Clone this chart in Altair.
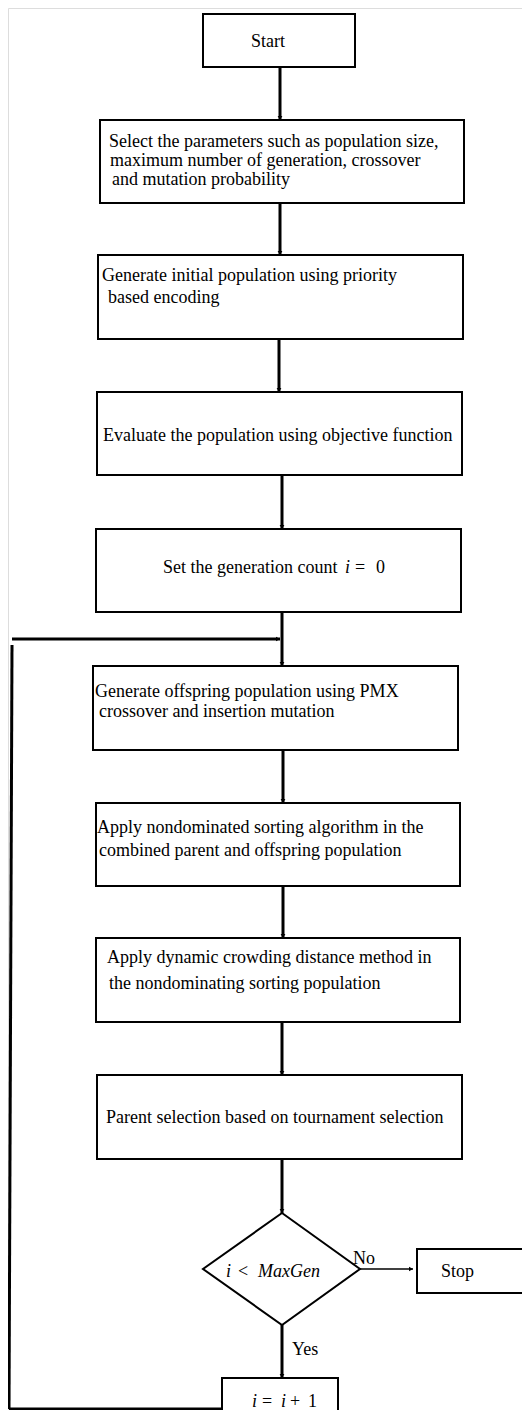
import altair as alt
import pandas as pd

# ---- boxes (image pixel coordinates) ----
box_left = [203, 100, 98, 97, 96, 93, 96, 96, 97, 417, 222]
box_right = [355, 464, 463, 462, 461, 458, 460, 460, 462, 545, 338]
box_top = [14, 120, 255, 392, 529, 666, 803, 938, 1075, 1249, 1378]
box_bottom = [67, 203, 339, 475, 612, 750, 886, 1022, 1159, 1293, 1445]

# ---- decision diamond (top, right, bottom, left, top) ----
diamond_x = [282, 360, 282, 203, 282]
diamond_y = [1213, 1269, 1325, 1269, 1213]

# ---- connectors ----
conn_x0 = [280, 280, 279, 282, 282, 283, 283, 282, 282, 282, 360, 222, 9, 12]
conn_y0 = [67, 203, 339, 475, 612, 750, 886, 1022, 1159, 1325, 1269, 1409, 1409, 639]
conn_x1 = [280, 280, 279, 282, 282, 283, 283, 282, 282, 282, 413, 9, 12, 280]
conn_y1 = [120, 255, 392, 529, 666, 803, 938, 1075, 1213, 1378, 1269, 1409, 645, 639]
conn_weight = ["thick"] * 10 + ["thin"] + ["thick"] * 3
conn_head = ["down"] * 10 + ["right", "none", "none", "right"]

# ---- text pieces ----
text_str = [
    "Start",
    "Select the parameters such as population size,",
    "maximum number of generation, crossover",
    "and mutation probability",
    "Generate initial population using priority",
    "based encoding",
    "Evaluate the population using objective function",
    "Set the generation count", "i", "=", "0",
    "Generate offspring population using PMX",
    "crossover and insertion mutation",
    "Apply nondominated sorting algorithm in the",
    "combined parent and offspring population",
    "Apply dynamic crowding distance method in",
    "the nondominating sorting population",
    "Parent selection based on tournament selection",
    "i", "<", "MaxGen",
    "No", "Stop", "Yes",
    "i", "=", "i", "+", "1",
]
text_x = [251, 109, 110, 112, 102, 108, 103, 163, 345, 355, 376, 95, 99, 97, 99,
          107, 109, 106, 226, 238, 258, 353, 441, 292, 252, 262, 281, 290, 308]
text_y = [47, 147, 166, 185, 281, 303, 441, 573, 573, 573, 573, 697, 717, 833, 856,
          963, 989, 1123, 1277, 1277, 1277, 1264, 1277, 1355, 1407, 1407, 1407, 1407, 1407]
text_style = ["normal"] * 8 + ["italic", "normal", "normal"] + ["normal"] * 7 + \
    ["italic", "normal", "italic"] + ["normal"] * 3 + ["italic", "normal", "italic", "normal", "normal"]

boxes = pd.DataFrame({"x": box_left, "x2": box_right, "y": box_top, "y2": box_bottom})
diamond = pd.DataFrame({"x": diamond_x, "y": diamond_y, "o": list(range(len(diamond_x)))})
conns = pd.DataFrame({"x": conn_x0, "y": conn_y0, "x2": conn_x1, "y2": conn_y1,
                      "w": conn_weight, "head": conn_head})
texts = pd.DataFrame({"t": text_str, "x": text_x, "y": text_y, "s": text_style})

# page margin is 8px: plot area covers image pixels 8..522 x 8..1410 at 1:1
xs = alt.Scale(domain=[8, 522], nice=False, zero=False)
ys = alt.Scale(domain=[8, 1410], nice=False, zero=False, reverse=True)

X = lambda f="x": alt.X(f"{f}:Q", scale=xs, axis=None)
Y = lambda f="y": alt.Y(f"{f}:Q", scale=ys, axis=None)

rects = alt.Chart(boxes).mark_rect(fill="white", stroke="black", strokeWidth=2, clip=True).encode(
    x=X(), x2="x2:Q", y=Y(), y2="y2:Q")

dia = alt.Chart(diamond).mark_line(color="black", strokeWidth=2).encode(
    x=X(), y=Y(), order="o:Q")

thick = alt.Chart(conns).transform_filter("datum.w == 'thick'").mark_rule(
    color="black", strokeWidth=3).encode(x=X(), y=Y(), x2="x2:Q", y2="y2:Q")
thin = alt.Chart(conns).transform_filter("datum.w == 'thin'").mark_rule(
    color="black", strokeWidth=1.5).encode(x=X(), y=Y(), x2="x2:Q", y2="y2:Q")

head_down = alt.Chart(conns).transform_filter("datum.head == 'down'").mark_point(
    shape="triangle-down", filled=True, color="black", size=22, opacity=1, yOffset=-2).encode(
    x=X("x2"), y=Y("y2"))
head_right = alt.Chart(conns).transform_filter("datum.head == 'right'").mark_point(
    shape="triangle-right", filled=True, color="black", size=22, opacity=1, xOffset=-2).encode(
    x=X("x2"), y=Y("y2"))

txt_n = alt.Chart(texts).transform_filter("datum.s == 'normal'").mark_text(
    align="left", baseline="alphabetic", font="Liberation Serif", fontSize=18, color="black").encode(
    x=X(), y=Y(), text="t:N")
txt_i = alt.Chart(texts).transform_filter("datum.s == 'italic'").mark_text(
    align="left", baseline="alphabetic", font="Liberation Serif", fontSize=18, fontStyle="italic",
    color="black").encode(x=X(), y=Y(), text="t:N")

chart = alt.layer(thick, thin, rects, dia, head_down, head_right, txt_n, txt_i).properties(
    width=514, height=1402, padding=0, autosize=alt.AutoSizeParams(type="none")
).configure_view(stroke=None).configure(background="white")

chart.save("out.html", embed_options={"renderer": "svg", "actions": False})
